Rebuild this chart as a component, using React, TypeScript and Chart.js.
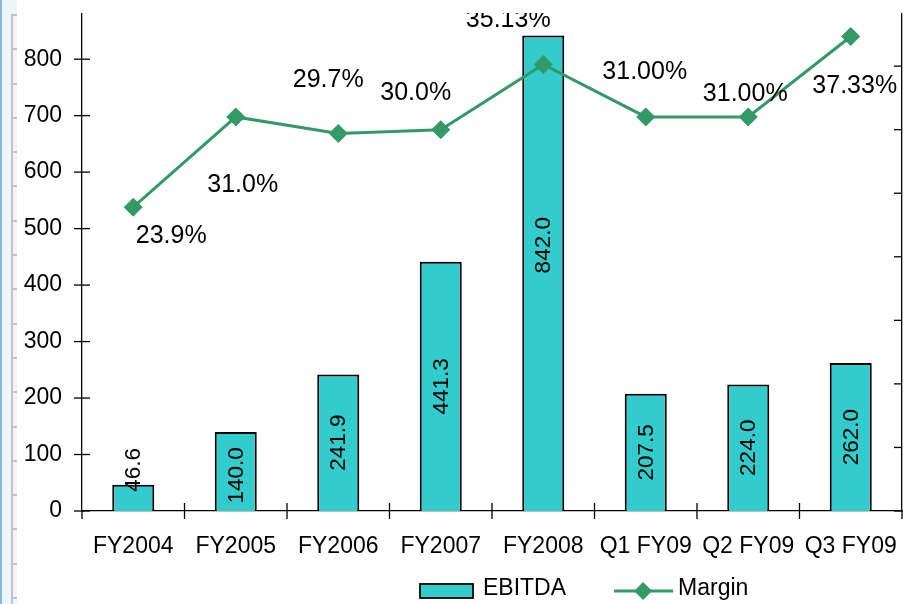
import React, { useEffect, useRef } from "react";
import { Chart, registerables } from "chart.js";

Chart.register(...registerables);

// ---- data ----
const CATEGORIES = ["FY2004", "FY2005", "FY2006", "FY2007", "FY2008", "Q1 FY09", "Q2 FY09", "Q3 FY09"];
const EBITDA = [46.6, 140.0, 241.9, 441.3, 842.0, 207.5, 224.0, 262.0];
const MARGIN = [23.9, 31.0, 29.7, 30.0, 35.13, 31.0, 31.0, 37.33];
const MARGIN_LABELS = ["23.9%", "31.0%", "29.7%", "30.0%", "35.13%", "31.00%", "31.00%", "37.33%"];
const LEFT_TICKS = [0, 100, 200, 300, 400, 500, 600, 700, 800];
const RIGHT_TICKS = [0, 5, 10, 15, 20, 25, 30, 35];
const LEFT_MAX = 880;
const RIGHT_MAX = 39.1;

// ---- style ----
const BAR_COLOR = "#33CCCC";
const LINE_COLOR = "#339966";
const FONT = "'Liberation Sans', Arial, Helvetica, sans-serif";
// label offsets (dx, dy) of the margin labels relative to their points
const MARGIN_LABEL_OFFSETS: [number, number][] = [
  [38, 29], [7, 68], [-10, -53], [-25, -37], [-35, -44], [-1, -45], [-3, -23], [4, 50],
];
// vertical shift of the bar labels from the bar centre
const BAR_LABEL_SHIFT = [0, 4, 0, 0, -28, 0, 0, 0];

function drawDiamond(ctx: CanvasRenderingContext2D, x: number, y: number, r: number) {
  ctx.beginPath();
  ctx.moveTo(x - r, y);
  ctx.lineTo(x, y - r);
  ctx.lineTo(x + r, y);
  ctx.lineTo(x, y + r);
  ctx.closePath();
  ctx.fill();
}

const zeroPad = (s: any) => {
  s.paddingTop = 0;
  s.paddingBottom = 0;
  s.paddingLeft = 0;
  s.paddingRight = 0;
};

const decorPlugin = {
  id: "decor",
  afterDatasetsDraw(chart: any) {
    const { ctx, chartArea, scales } = chart;
    const xs = scales.x, ys = scales.y, y1 = scales.y1;
    ctx.save();
    ctx.strokeStyle = "#000";
    ctx.lineWidth = 1.3;
    const seg = (a: number, b: number, c: number, d: number) => {
      ctx.beginPath();
      ctx.moveTo(a, b);
      ctx.lineTo(c, d);
      ctx.stroke();
    };
    LEFT_TICKS.forEach((v) => {
      const py = ys.getPixelForValue(v);
      seg(chartArea.left - 8, py, chartArea.left + 8, py);
    });
    RIGHT_TICKS.forEach((v) => {
      const py = y1.getPixelForValue(v);
      seg(chartArea.right - 8, py, chartArea.right, py);
    });
    for (let i = 0; i <= CATEGORIES.length; i++) {
      const px = xs.getPixelForValue(i - 0.5);
      const top = i === 0 || i === CATEGORIES.length ? chartArea.bottom : chartArea.bottom - 8;
      seg(px, top, px, chartArea.bottom + 8);
    }

    // bar value labels (vertical)
    const barMeta = chart.getDatasetMeta(1);
    ctx.fillStyle = "#000";
    ctx.font = `22.5px ${FONT}`;
    ctx.textAlign = "center";
    ctx.textBaseline = "middle";
    barMeta.data.forEach((el: any, i: number) => {
      const text = EBITDA[i].toFixed(1);
      const tw = ctx.measureText(text).width;
      const h = el.base - el.y;
      const cy = tw + 4 > h ? el.y + 7 - tw / 2 : (el.y + el.base) / 2 + BAR_LABEL_SHIFT[i];
      ctx.save();
      ctx.translate(el.x + 1, cy);
      ctx.rotate(-Math.PI / 2);
      ctx.fillText(text, 0, 0);
      ctx.restore();
    });
    ctx.restore();
  },
  afterDraw(chart: any) {
    const { ctx } = chart;
    ctx.save();
    // margin labels (clipped to the chart object's top edge)
    ctx.save();
    ctx.beginPath();
    ctx.rect(0, chart.chartArea.top - 1, chart.width, chart.height);
    ctx.clip();
    const lineMeta = chart.getDatasetMeta(0);
    ctx.fillStyle = "#000";
    ctx.font = `25px ${FONT}`;
    ctx.textAlign = "center";
    ctx.textBaseline = "middle";
    lineMeta.data.forEach((el: any, i: number) => {
      const [dx, dy] = MARGIN_LABEL_OFFSETS[i];
      ctx.fillText(MARGIN_LABELS[i], el.x + dx, el.y + dy);
    });
    ctx.restore();

    // legend
    const ly = 591;
    ctx.font = `23px ${FONT}`;
    ctx.textAlign = "left";
    ctx.textBaseline = "middle";
    let lx = 420;
    ctx.fillStyle = BAR_COLOR;
    ctx.fillRect(lx, ly - 7, 53, 14);
    ctx.strokeStyle = "#000";
    ctx.lineWidth = 1.8;
    ctx.strokeRect(lx, ly - 7, 53, 14);
    lx += 63;
    ctx.fillStyle = "#000";
    ctx.fillText(chart.data.datasets[1].label, lx, ly - 2);
    lx += ctx.measureText(chart.data.datasets[1].label).width + 48;
    ctx.strokeStyle = LINE_COLOR;
    ctx.lineWidth = 3;
    ctx.beginPath();
    ctx.moveTo(lx, ly);
    ctx.lineTo(lx + 59, ly);
    ctx.stroke();
    ctx.fillStyle = LINE_COLOR;
    drawDiamond(ctx, lx + 29, ly, 9);
    lx += 64;
    ctx.fillStyle = "#000";
    ctx.fillText(chart.data.datasets[0].label, lx, ly - 2);
    ctx.restore();
  },
};

export default function App() {
  const canvasRef = useRef<HTMLCanvasElement | null>(null);

  useEffect(() => {
    if (!canvasRef.current) return;
    const chart = new Chart(canvasRef.current, {
      type: "bar",
      data: {
        labels: CATEGORIES,
        datasets: [
          {
            type: "line",
            label: "Margin",
            data: MARGIN,
            yAxisID: "y1",
            borderColor: LINE_COLOR,
            borderWidth: 3,
            backgroundColor: LINE_COLOR,
            pointStyle: "rectRot",
            pointRadius: 9,
            pointBackgroundColor: LINE_COLOR,
            pointBorderColor: LINE_COLOR,
            pointBorderWidth: 1,
            tension: 0,
            clip: false,
            order: 0,
          } as any,
          {
            type: "bar",
            label: "EBITDA",
            data: EBITDA,
            yAxisID: "y",
            backgroundColor: BAR_COLOR,
            borderColor: "#000",
            borderWidth: 2,
            barPercentage: 0.41,
            categoryPercentage: 1,
            order: 1,
          },
        ],
      },
      options: {
        animation: false,
        responsive: true,
        maintainAspectRatio: false,
        layout: { autoPadding: false, padding: { top: 14, left: 0, right: 0, bottom: 0 } },
        plugins: {
          legend: { display: false },
          tooltip: { enabled: false },
        },
        scales: {
          x: {
            offset: true,
            grid: { display: false, drawTicks: false },
            border: { display: true, color: "#000", width: 1.3 },
            ticks: {
              color: "#000",
              font: { family: FONT, size: 23 },
              padding: 22,
              maxRotation: 0,
              autoSkip: false,
            },
            afterFit: (s: any) => {
              s.height = 93;
              zeroPad(s);
            },
          },
          y: {
            position: "left",
            min: 0,
            max: LEFT_MAX,
            grid: { display: false, drawTicks: false },
            border: { display: true, color: "#000", width: 1.3 },
            ticks: {
              color: "#000",
              font: { family: FONT, size: 23 },
              padding: 20,
            },
            afterBuildTicks: (s: any) => {
              s.ticks = LEFT_TICKS.map((v) => ({ value: v }));
            },
            afterFit: (s: any) => {
              s.width = 82;
              zeroPad(s);
            },
          },
          y1: {
            position: "right",
            min: 0,
            max: RIGHT_MAX,
            grid: { display: false, drawTicks: false },
            border: { display: true, color: "#000", width: 1.3 },
            ticks: { display: false },
            afterBuildTicks: (s: any) => {
              s.ticks = RIGHT_TICKS.map((v) => ({ value: v }));
            },
            afterFit: (s: any) => {
              s.width = 5;
              zeroPad(s);
            },
          },
        },
      },
      plugins: [decorPlugin],
    });
    return () => chart.destroy();
  }, []);

  return (
    <div
      style={{
        position: "fixed",
        left: 0,
        top: 0,
        width: 907,
        height: 604,
        background: "#fff",
        overflow: "hidden",
      }}
    >
      <canvas ref={canvasRef} style={{ display: "block" }} />
      <div
        style={{
          position: "absolute",
          left: 0,
          top: 0,
          width: 17,
          height: 604,
          background: "#eef5fb",
          borderLeft: "2px solid #8ab6da",
          boxSizing: "border-box",
          pointerEvents: "none",
        }}
      />
      <div
        style={{
          position: "absolute",
          left: 11,
          top: 14,
          width: 6,
          height: 590,
          backgroundImage:
            "linear-gradient(to right, #c4c4c4 0, #c4c4c4 2px, transparent 2px), repeating-linear-gradient(to bottom, #c4c4c4 0, #c4c4c4 2px, transparent 2px, transparent 34.3px)",
          pointerEvents: "none",
        }}
      />
    </div>
  );
}
